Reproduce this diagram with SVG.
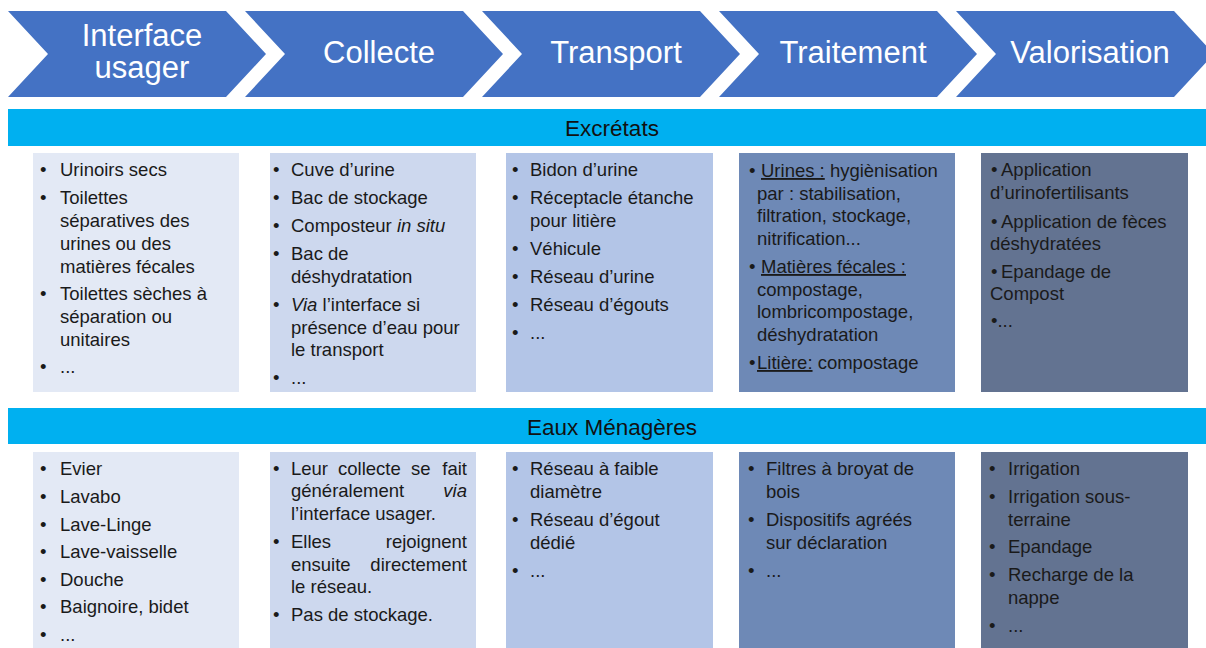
<svg xmlns="http://www.w3.org/2000/svg" width="1206" height="648" viewBox="0 0 1206 648">
<style>
  text { font-family: "Liberation Sans", Arial, sans-serif; }
  .chev { fill: #4472C4; }
  .hd { fill: #FFFFFF; font-size: 31px; text-anchor: middle; }
  .bar { fill: #00B0F0; }
  .bt { fill: #111111; font-size: 22.5px; text-anchor: middle; }
  .t { fill: #1A1A1A; font-size: 18.5px; }
  .c1 { fill: #E3E9F5; }
  .c2 { fill: #CDD8EE; }
  .c3 { fill: #B3C5E7; }
  .c4 { fill: #6E89B6; }
  .c5 { fill: #637391; }
  .u { text-decoration: underline; }
  .i { font-style: italic; }
  .e { text-anchor: end; }
</style>
<rect width="1206" height="648" fill="#FFFFFF"/>

<g id="step-interface">
  <path class="chev" d="M8,11 L226,11 L266,54 L226,97 L8,97 L48,54 Z"/>
  <text class="hd" x="142" y="46">Interface<tspan x="142" y="78">usager</tspan></text>
</g>
<g id="step-collecte">
  <path class="chev" d="M245,11 L463,11 L503,54 L463,97 L245,97 L285,54 Z"/>
  <text class="hd" x="379" y="63">Collecte</text>
</g>
<g id="step-transport">
  <path class="chev" d="M482,11 L700,11 L740,54 L700,97 L482,97 L522,54 Z"/>
  <text class="hd" x="616" y="63">Transport</text>
</g>
<g id="step-traitement">
  <path class="chev" d="M719,11 L937,11 L977,54 L937,97 L719,97 L759,54 Z"/>
  <text class="hd" x="853" y="63">Traitement</text>
</g>
<g id="step-valorisation">
  <path class="chev" d="M956,11 L1174,11 L1214,54 L1174,97 L956,97 L996,54 Z"/>
  <text class="hd" x="1090" y="63">Valorisation</text>
</g>

<g id="bar-excretats">
  <rect class="bar" x="8" y="109" width="1198" height="37"/>
  <text class="bt" x="612" y="136">Excrétats</text>
</g>

<g id="ex-interface">
  <rect class="c1" x="33" y="153" width="206" height="239"/>
  <text class="t" x="40" y="176">•</text><text class="t" x="60" y="176">Urinoirs secs</text>
  <text class="t" x="40" y="204">•</text><text class="t" x="60" y="204">Toilettes</text>
  <text class="t" x="60" y="227">séparatives des</text>
  <text class="t" x="60" y="250">urines ou des</text>
  <text class="t" x="60" y="273">matières fécales</text>
  <text class="t" x="40" y="300">•</text><text class="t" x="60" y="300">Toilettes sèches à</text>
  <text class="t" x="60" y="323">séparation ou</text>
  <text class="t" x="60" y="346">unitaires</text>
  <text class="t" x="40" y="373">•</text><text class="t" x="60" y="373">...</text>
</g>

<g id="ex-collecte">
  <rect class="c2" x="270" y="153" width="206" height="239"/>
  <text class="t" x="273" y="176">•</text><text class="t" x="291" y="176">Cuve d’urine</text>
  <text class="t" x="273" y="204">•</text><text class="t" x="291" y="204">Bac de stockage</text>
  <text class="t" x="273" y="232">•</text><text class="t" x="291" y="232">Composteur <tspan class="i">in situ</tspan></text>
  <text class="t" x="273" y="260">•</text><text class="t" x="291" y="260">Bac de</text>
  <text class="t" x="291" y="283">déshydratation</text>
  <text class="t" x="273" y="311">•</text><text class="t" x="291" y="311"><tspan class="i">Via</tspan> l’interface si</text>
  <text class="t" x="291" y="334">présence d’eau pour</text>
  <text class="t" x="291" y="356">le transport</text>
  <text class="t" x="273" y="384">•</text><text class="t" x="291" y="384">...</text>
</g>

<g id="ex-transport">
  <rect class="c3" x="506" y="153" width="207" height="239"/>
  <text class="t" x="512" y="176">•</text><text class="t" x="530" y="176">Bidon d’urine</text>
  <text class="t" x="512" y="204">•</text><text class="t" x="530" y="204">Réceptacle étanche</text>
  <text class="t" x="530" y="227">pour litière</text>
  <text class="t" x="512" y="255">•</text><text class="t" x="530" y="255">Véhicule</text>
  <text class="t" x="512" y="283">•</text><text class="t" x="530" y="283">Réseau d’urine</text>
  <text class="t" x="512" y="311">•</text><text class="t" x="530" y="311">Réseau d’égouts</text>
  <text class="t" x="512" y="339">•</text><text class="t" x="530" y="339">...</text>
</g>

<g id="ex-traitement">
  <rect class="c4" x="739" y="153" width="216" height="239"/>
  <text class="t" x="749" y="177">•</text><text class="t" x="761" y="177"><tspan class="u">Urines :</tspan> hygiènisation</text>
  <text class="t" x="757" y="200">par : stabilisation,</text>
  <text class="t" x="757" y="222">filtration, stockage,</text>
  <text class="t" x="757" y="245">nitrification...</text>
  <text class="t" x="749" y="273">•</text><text class="t" x="761" y="273"><tspan class="u">Matières fécales :</tspan></text>
  <text class="t" x="757" y="296">compostage,</text>
  <text class="t" x="757" y="318">lombricompostage,</text>
  <text class="t" x="757" y="341">déshydratation</text>
  <text class="t" x="749" y="369">•</text><text class="t" x="757" y="369"><tspan class="u"> Litière:</tspan> compostage</text>
</g>

<g id="ex-valorisation">
  <rect class="c5" x="981" y="153" width="207" height="239"/>
  <text class="t" x="991" y="176">•</text><text class="t" x="1001" y="176">Application</text>
  <text class="t" x="990" y="199">d’urinofertilisants</text>
  <text class="t" x="991" y="228">•</text><text class="t" x="1001" y="228">Application de fèces</text>
  <text class="t" x="990" y="250">déshydratées</text>
  <text class="t" x="991" y="278">•</text><text class="t" x="1001" y="278">Epandage de</text>
  <text class="t" x="990" y="300">Compost</text>
  <text class="t" x="991" y="327">•...</text>
</g>

<g id="bar-eaux">
  <rect class="bar" x="8" y="408" width="1198" height="36"/>
  <text class="bt" x="612" y="435">Eaux Ménagères</text>
</g>

<g id="em-interface">
  <rect class="c1" x="33" y="452" width="206" height="196"/>
  <text class="t" x="40" y="475">•</text><text class="t" x="60" y="475">Evier</text>
  <text class="t" x="40" y="503">•</text><text class="t" x="60" y="503">Lavabo</text>
  <text class="t" x="40" y="531">•</text><text class="t" x="60" y="531">Lave-Linge</text>
  <text class="t" x="40" y="558">•</text><text class="t" x="60" y="558">Lave-vaisselle</text>
  <text class="t" x="40" y="586">•</text><text class="t" x="60" y="586">Douche</text>
  <text class="t" x="40" y="613">•</text><text class="t" x="60" y="613">Baignoire, bidet</text>
  <text class="t" x="40" y="641">•</text><text class="t" x="60" y="641">...</text>
</g>

<g id="em-collecte">
  <rect class="c2" x="270" y="452" width="206" height="196"/>
  <text class="t" x="273" y="475">•</text>
  <text class="t" x="291" y="475">Leur</text><text class="t" x="338" y="475">collecte</text><text class="t" x="411" y="475">se</text><text class="t e" x="467" y="475">fait</text>
  <text class="t" x="291" y="497">généralement</text><text class="t e i" x="467" y="497">via</text>
  <text class="t" x="291" y="520">l’interface usager.</text>
  <text class="t" x="273" y="548">•</text>
  <text class="t" x="291" y="548">Elles</text><text class="t e" x="467" y="548">rejoignent</text>
  <text class="t" x="291" y="571">ensuite</text><text class="t e" x="467" y="571">directement</text>
  <text class="t" x="291" y="593">le réseau.</text>
  <text class="t" x="273" y="621">•</text><text class="t" x="291" y="621">Pas de stockage.</text>
</g>

<g id="em-transport">
  <rect class="c3" x="506" y="452" width="207" height="196"/>
  <text class="t" x="512" y="475">•</text><text class="t" x="530" y="475">Réseau à faible</text>
  <text class="t" x="530" y="498">diamètre</text>
  <text class="t" x="512" y="526">•</text><text class="t" x="530" y="526">Réseau d’égout</text>
  <text class="t" x="530" y="549">dédié</text>
  <text class="t" x="512" y="577">•</text><text class="t" x="530" y="577">...</text>
</g>

<g id="em-traitement">
  <rect class="c4" x="739" y="452" width="216" height="196"/>
  <text class="t" x="748" y="475">•</text><text class="t" x="766" y="475">Filtres à broyat de</text>
  <text class="t" x="766" y="498">bois</text>
  <text class="t" x="748" y="526">•</text><text class="t" x="766" y="526">Dispositifs agréés</text>
  <text class="t" x="766" y="549">sur déclaration</text>
  <text class="t" x="748" y="577">•</text><text class="t" x="766" y="577">...</text>
</g>

<g id="em-valorisation">
  <rect class="c5" x="981" y="452" width="207" height="196"/>
  <text class="t" x="989" y="475">•</text><text class="t" x="1008" y="475">Irrigation</text>
  <text class="t" x="989" y="503">•</text><text class="t" x="1008" y="503">Irrigation sous-</text>
  <text class="t" x="1008" y="526">terraine</text>
  <text class="t" x="989" y="553">•</text><text class="t" x="1008" y="553">Epandage</text>
  <text class="t" x="989" y="581">•</text><text class="t" x="1008" y="581">Recharge de la</text>
  <text class="t" x="1008" y="604">nappe</text>
  <text class="t" x="989" y="632">•</text><text class="t" x="1008" y="632">...</text>
</g>
</svg>
